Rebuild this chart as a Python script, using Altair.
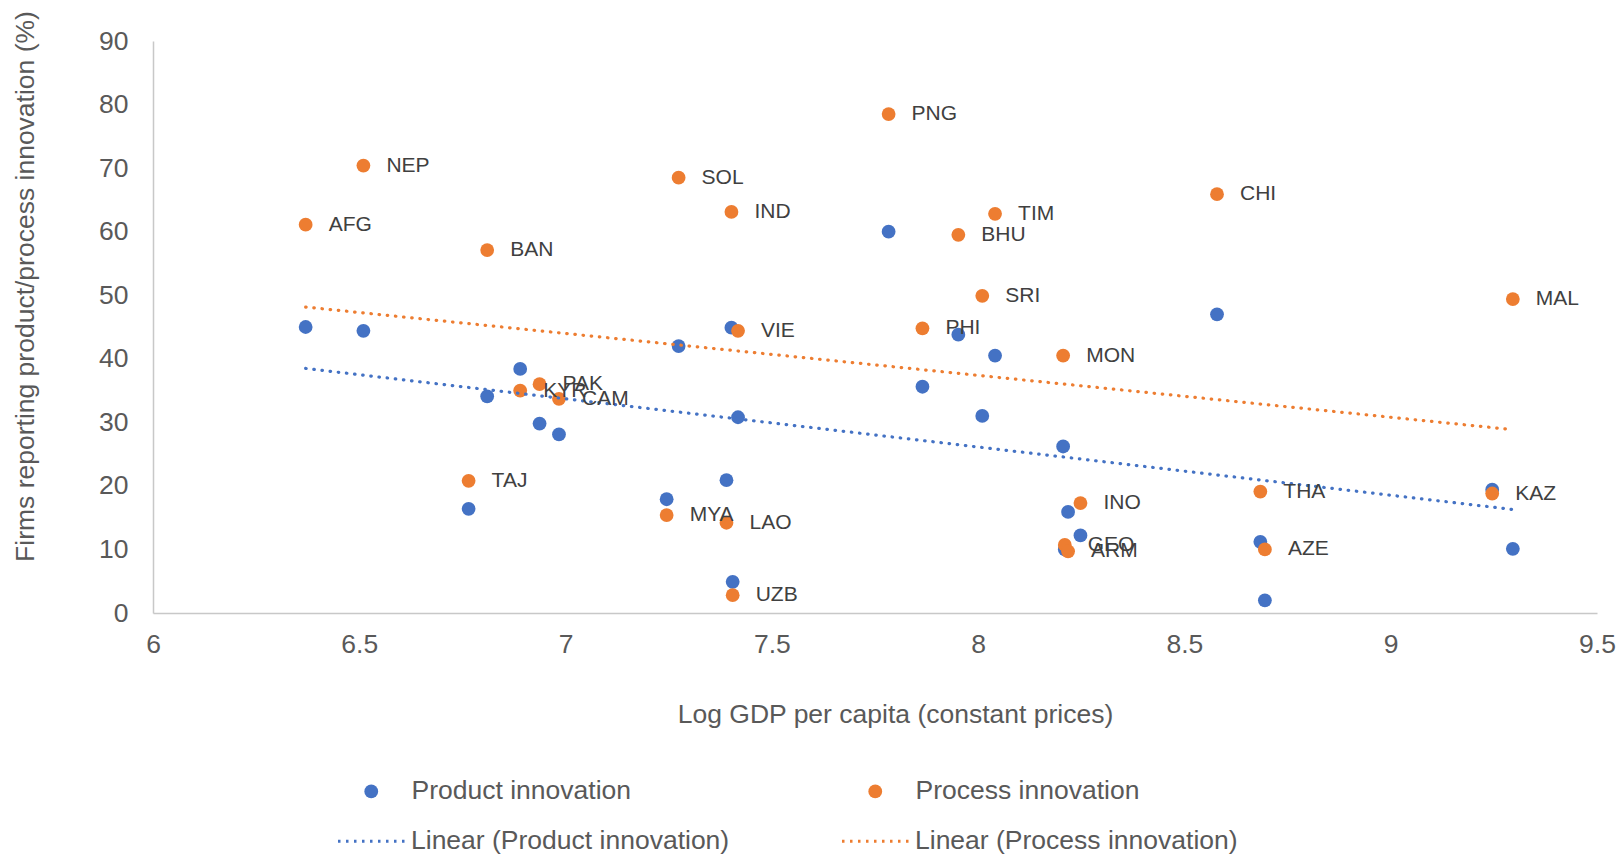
import altair as alt
import pandas as pd

# Country codes and log GDP per capita (constant prices)
countries = ["AFG", "NEP", "BAN", "SOL", "IND", "PNG", "TIM", "BHU", "SRI", "CHI",
             "MAL", "VIE", "PHI", "MON", "PAK", "KYR", "CAM", "TAJ", "MYA", "LAO",
             "INO", "GEO", "ARM", "UZB", "THA", "AZE", "KAZ"]
log_gdp = [6.37, 6.51, 6.81, 7.274, 7.402, 7.783, 8.041, 7.952, 8.01, 8.579,
           9.296, 7.418, 7.865, 8.206, 6.937, 6.89, 6.984, 6.765, 7.245, 7.39,
           8.248, 8.21, 8.218, 7.405, 8.684, 8.695, 9.246]
# Share of firms reporting each type of innovation (%)
product_share = [45.0, 44.4, 34.1, 42.0, 44.9, 60.0, 40.5, 43.8, 31.0, 47.0,
                 10.1, 30.8, 35.6, 26.2, 29.8, 38.4, 28.1, 16.4, 17.9, 20.9,
                 12.2, 10.0, 15.9, 4.9, 11.2, 2.0, 19.4]
process_share = [61.1, 70.4, 57.1, 68.5, 63.1, 78.5, 62.8, 59.5, 49.9, 65.9,
                 49.4, 44.4, 44.8, 40.5, 36.0, 35.0, 33.7, 20.8, 15.4, 14.2,
                 17.3, 10.7, 9.7, 2.8, 19.1, 10.0, 18.8]
x_ticks = [6, 6.5, 7, 7.5, 8, 8.5, 9, 9.5]
y_ticks = [0, 10, 20, 30, 40, 50, 60, 70, 80, 90]

PRODUCT = "Product innovation"
PROCESS = "Process innovation"
BLUE = "#4472C4"
ORANGE = "#ED7D31"
FONT = "Liberation Sans"
TEXT_GREY = "#595959"

rows = []
for name, values in [(PRODUCT, product_share), (PROCESS, process_share)]:
    for c, g, v in zip(countries, log_gdp, values):
        rows.append({"country": c, "gdp": g, "share": v, "series": name})
df = pd.DataFrame(rows)

x_enc = alt.X(
    "gdp:Q",
    scale=alt.Scale(domain=[6, 9.5], nice=False, zero=False),
    axis=alt.Axis(title="Log GDP per capita (constant prices)", values=x_ticks,
                  format="~g", labelFlush=False, labelPadding=18,
                  titlePadding=44, titleX=742),
)
y_enc = alt.Y(
    "share:Q",
    scale=alt.Scale(domain=[0, 90], nice=False),
    axis=alt.Axis(title="Firms reporting product/process innovation (%)",
                  values=y_ticks, labelPadding=25, titlePadding=59, titleY=245),
)

points = alt.Chart(df).mark_circle(size=190, opacity=1).encode(
    x=x_enc,
    y=y_enc,
    fill=alt.Fill(
        "series:N",
        scale=alt.Scale(domain=[PRODUCT, PROCESS], range=[BLUE, ORANGE]),
        legend=alt.Legend(
            title=None, orient="none", legendX=205, legendY=737,
            direction="horizontal", symbolType="circle", symbolSize=190,
            symbolStrokeWidth=0, symbolOpacity=1, labelOffset=27,
            columnPadding=230, labelLimit=600, padding=0,
        ),
    ),
)

trend = (
    alt.Chart(df)
    .transform_regression("gdp", "share", groupby=["series"])
    .transform_calculate(trend='"Linear (" + datum.series + ")"')
    .mark_line(strokeWidth=3.2, strokeDash=[0.5, 7.7], strokeCap="round")
    .encode(
        x="gdp:Q",
        y="share:Q",
        stroke=alt.Stroke(
            "trend:N",
            scale=alt.Scale(
                domain=["Linear (Product innovation)", "Linear (Process innovation)"],
                range=[BLUE, ORANGE],
            ),
            legend=alt.Legend(
                title=None, orient="none", legendX=183, legendY=763,
                direction="horizontal", symbolType="stroke", symbolSize=4900,
                symbolDash=[2.5, 5.5], symbolStrokeWidth=3.2, labelOffset=1,
                columnPadding=105, labelLimit=600, padding=0,
            ),
        ),
    )
)

labels = (
    alt.Chart(df)
    .transform_filter(alt.datum.series == PROCESS)
    .mark_text(align="left", baseline="middle", dx=23, font=FONT,
               fontSize=21, color="#404040")
    .encode(x="gdp:Q", y="share:Q", text="country:N")
)

chart = (
    alt.layer(points, trend, labels)
    .properties(
        width=1444,
        height=572,
        autosize=alt.AutoSizeParams(type="none"),
        padding={"left": 153, "top": 41, "right": 20, "bottom": 241},
    )
    .configure_view(stroke=None)
    .configure_axis(
        grid=False, ticks=False, domainColor="#c8c8c8", domainWidth=1.5,
        labelFont=FONT, labelFontSize=26.5, labelColor=TEXT_GREY,
        titleFont=FONT, titleFontSize=26.5, titleFontWeight="normal",
        titleColor=TEXT_GREY,
    )
    .configure_legend(labelFont=FONT, labelFontSize=26.5, labelColor=TEXT_GREY)
)

chart.save("out.html", embed_options={"renderer": "svg", "actions": False})
